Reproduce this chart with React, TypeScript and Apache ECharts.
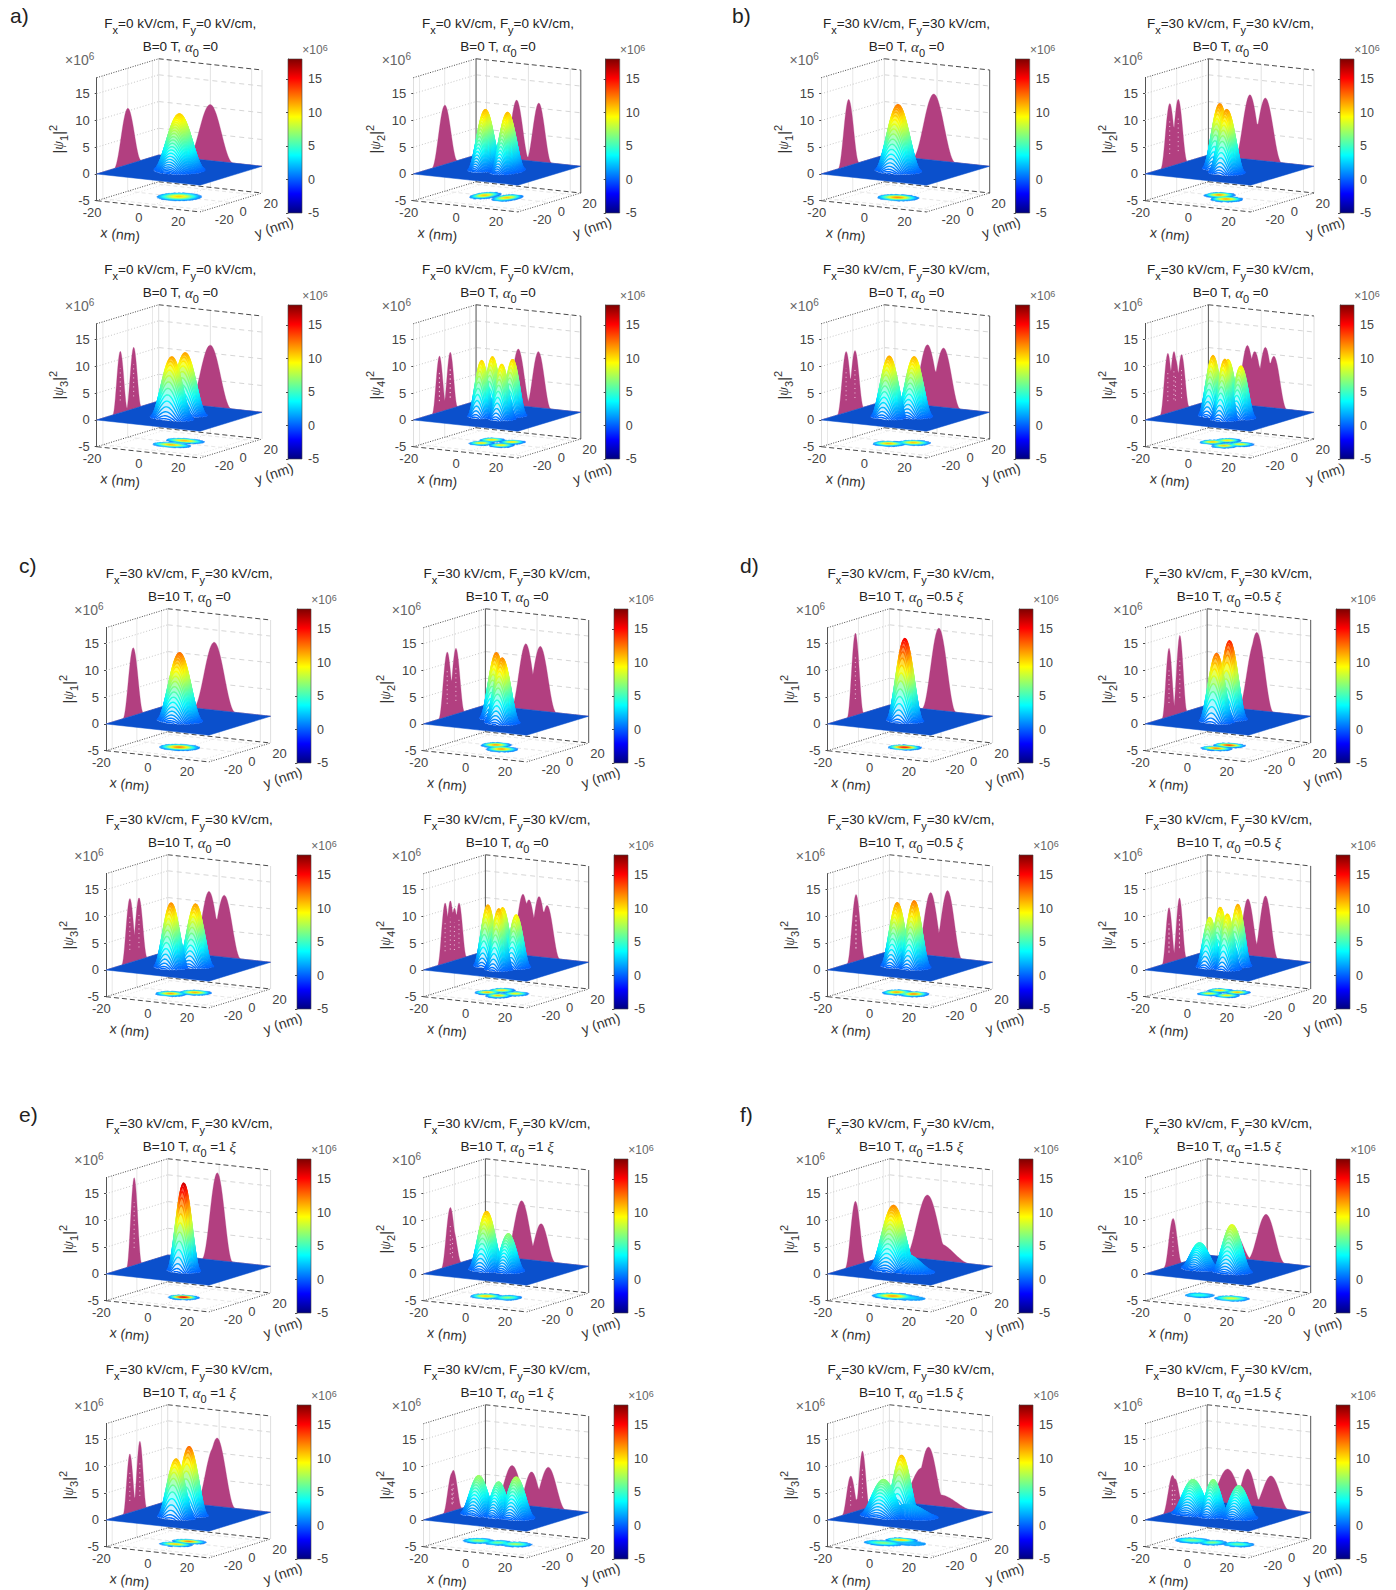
import React, { useEffect, useRef } from "react";
import * as echarts from "echarts";

// ---- values: each peak is [x nm, y nm, height (x10^6), half-height width in x, in y]
const panelsA = [
  [[0, 0, 10.5, 4, 4]],
  [[-5.6, 0, 11.1, 2.2, 3.7], [5, 0, 11, 2.2, 3.7]],
  [[0, -6, 11.5, 3.7, 2.2], [0, 4.8, 11.5, 3.7, 2.2]],
  [[-4.8, -4.2, 10.5, 2.15, 2.1], [-4.8, 4.4, 10.6, 2.15, 2.1], [4.8, -4.2, 10.2, 2.15, 2.1], [4.8, 4.4, 10.5, 2.15, 2.1]],
];
const panelsB = [
  [[-1.5, -3.3, 12.4, 3.7, 3]],
  [[-5.3, 1.2, 12.1, 2.6, 2.6], [2, -5.5, 11.8, 2.8, 2.6]],
  [[-4.5, -5.3, 11.4, 2.9, 2.5], [3.1, 1.7, 11.1, 2.9, 2.5]],
  [[-6.5, -2.2, 11.2, 2.2, 2.2], [2, -7, 11.2, 2.2, 2.2], [-3, 3.8, 10.2, 2.2, 2.2], [6, -1, 9.7, 2.2, 2.2]],
];
const panelsC = [
  [[-2.4, -3, 12.7, 3.7, 3]],
  [[-5.4, 1.2, 12.3, 2.6, 2.5], [1.6, -5.8, 12.1, 2.8, 2.5]],
  [[-4.9, -5.7, 12, 2.8, 2.4], [2.5, 1.7, 11.6, 2.9, 2.4]],
  [[-6.8, -3.3, 11.4, 2.2, 2.2], [1, -7.5, 11.3, 2.2, 2.2], [-3.9, 3.7, 10.5, 2.2, 2.2], [4.9, 0, 9.8, 2.2, 2.2]],
];
const panelsD = [
  [[-1, -2.5, 15.4, 3, 2.4]],
  [[-2, -5.7, 12.8, 2.9, 2], [-1, 3, 14.6, 2.9, 2.1]],
  [[-5, -2, 11.8, 2.5, 2.6], [3.2, -2, 12.5, 2.5, 2.6]],
  [[-5.3, -5.7, 9.3, 2.15, 2], [-5.3, 2.7, 10.6, 2.15, 2], [3.2, -5.7, 10.3, 2.15, 2], [3.2, 2.7, 11.5, 2.15, 2]],
];
const panelsE = [
  [[-0.9, -2.2, 16.4, 2.7, 2.2]],
  [[-7.4, -3.3, 10.9, 2.9, 2.6], [2, -1.5, 7, 2.5, 2.6]],
  [[-2.5, -5.7, 11, 3.2, 2], [-1, 2.4, 12.8, 3.2, 2]],
  [[-12, -2, 7.2, 3, 2.6], [-2.6, -1.7, 6.4, 2.5, 2.6], [5.5, -1, 7.6, 3, 2.6]],
];
const panelsF = [
  [[-6.5, -2.5, 12, 4, 3], [-1, -2.5, 3.2, 5.5, 3]],
  [[-11.8, -3, 4.8, 3.1, 2.6], [3.5, -2.5, 8.8, 3.3, 2.6]],
  [[-9, -6.3, 6.9, 4.1, 2.5], [-6, 3.2, 10.9, 3, 2.1], [0, -1, 2.2, 5.5, 3.4]],
  [[-15, -3, 6.4, 3.6, 2.8], [-5.3, -3, 6.8, 2.5, 2.6], [5.9, -1, 6, 3.1, 2.6]],
];
const fieldLabels = ["0", "30", "30", "30", "30", "30"];
const magneticLabels = ["0", "0", "10", "10", "10", "10"];
const alphaLabels = ["=0", "=0", "=0", "=0.5 {g|ξ}", "=1 {g|ξ}", "=1.5 {g|ξ}"];
const groupLetters = ["a)", "b)", "c)", "d)", "e)", "f)"];
const zTicks = [-5, 0, 5, 10, 15];
const xyTicks = [-20, 0, 20];
const zMin = -5;
const zMax = 18;
const xyLimit = 25;
const jetStops = ["#00007f", "#0000ff", "#00ffff", "#ffff00", "#ff0000", "#7f0000"];
const jetOffsets = [0, 0.125, 0.375, 0.625, 0.875, 1];

// ---- layout: [z-axis x, right corner x, colour bar x] per column, bar top per row
const groupColumns = [
  [[96.7, 262, 288], [413.3, 580.7, 605.7]],
  [[821.2, 989.7, 1015.7], [1145, 1314, 1340]],
  [[106, 270.6, 297], [423.4, 588.7, 614]],
  [[827.5, 992.6, 1019], [1145, 1310.7, 1336]],
  [[106, 270.6, 297], [423.4, 588.7, 614]],
  [[827.5, 992.6, 1019], [1145, 1310.7, 1336]],
];
const groupRows = [[59, 305], [59, 305], [609, 855], [609, 855], [1159, 1405], [1159, 1405]];
const letterPlaces = [[10, 5], [732, 5], [19, 555], [740, 555], [19, 1104], [740, 1104]];
// tone of the [left, back, right] vertical box edges for the four panels of a group
const D = "#555555";
const G = "#8a8a8a";
const W = "#dedede";
const groupEdges = [
  [[D, W, W], [W, G, G], [D, W, W], [W, G, G]],
  [[W, W, D], [D, D, W], [W, W, D], [D, D, W]],
  [[D, W, W], [W, D, D], [D, W, W], [W, D, D]],
  [[D, W, W], [W, D, D], [D, W, W], [W, D, D]],
  [[D, W, W], [W, D, D], [D, W, W], [W, D, D]],
  [[D, W, W], [W, D, D], [D, W, W], [W, D, D]],
];

const FONT = '"Liberation Sans", Arial, sans-serif';
const SERIF = '"Liberation Serif", "DejaVu Serif", serif';
const WALL = "#b23f80";
const PLANE = "#0b50cc";
const DARK = "#4a4a4a";
const PEAK_REACH = 2.75;
const ROW_STEP = 0.4;
const FLOOR_STEP = 1;

function hexToRgb(h: string) {
  return [1, 3, 5].map((i) => parseInt(h.slice(i, i + 2), 16));
}
function jetRgb(v: number) {
  const q = Math.min(1, Math.max(0, (v - zMin) / (zMax - zMin)));
  let i = 0;
  while (i < jetOffsets.length - 2 && q > jetOffsets[i + 1]) i++;
  const f = (q - jetOffsets[i]) / (jetOffsets[i + 1] - jetOffsets[i]);
  const a = hexToRgb(jetStops[i]);
  const b = hexToRgb(jetStops[i + 1]);
  return a.map((c0, k) => c0 + (b[k] - c0) * f);
}
// colour for a height; the gaps of the mesh show a paler tone, palest low down
function meshColor(v: number, pale: boolean) {
  const c = jetRgb(v);
  const tint = pale ? Math.min(0.92, Math.max(0.25, 0.95 - v * 0.09)) : 0;
  const m = c.map((k) => Math.round(k + (255 - k) * tint));
  return `rgb(${m[0]},${m[1]},${m[2]})`;
}

// oblique view of the box: x runs to the front corner, y to the right corner
function project(x: number, y: number, z: number) {
  const s = (x + xyLimit) / (2 * xyLimit);
  const t = (y + xyLimit) / (2 * xyLimit);
  return [s * 0.625 + t * 0.375, z - s * 2.1 + t * 3.54];
}
// bell of one peak, r in units of its width
function bump(r: number) {
  if (r >= PEAK_REACH) return 0;
  const c = Math.cos((Math.PI * r) / (2 * PEAK_REACH));
  return c * c;
}
function surfaceHeight(peaks: number[][], x: number, y: number) {
  let best = 0;
  for (const p of peaks) {
    const v = p[2] * bump(Math.hypot((x - p[0]) / p[3], (y - p[1]) / p[4]));
    if (v > best) best = v;
  }
  return best;
}
function wallOverY(peaks: number[][], y: number) {
  let best = 0;
  for (const p of peaks) best = Math.max(best, p[2] * bump(Math.abs(y - p[1]) / p[4]));
  return best;
}
function wallOverX(peaks: number[][], x: number) {
  let best = 0;
  for (const p of peaks) best = Math.max(best, p[2] * bump(Math.abs(x - p[0]) / p[3]));
  return best;
}
function range(a: number, b: number, step: number) {
  const out: number[] = [];
  for (let v = a; v <= b + 1e-9; v += step) out.push(v);
  return out;
}
// stretches of a row [y, y + step] where the surface rises above a level
function rowSpans(peaks: number[][], y: number, step: number, level: number) {
  const spans: number[][] = [];
  let start: number | null = null;
  const xs = range(-xyLimit, xyLimit, 0.5);
  for (const x of xs) {
    const up = Math.max(surfaceHeight(peaks, x, y), surfaceHeight(peaks, x, y + step)) > level;
    if (up && start === null) start = x;
    if (!up && start !== null) {
      spans.push([y, start - 0.5, x]);
      start = null;
    }
  }
  if (start !== null) spans.push([y, start - 0.5, xyLimit]);
  return spans;
}
// a horizontal gradient in page pixels that follows the height along one edge of a row
function heightGradient(peaks: number[][], y: number, xa: number, xb: number, px0: number, px1: number, pale: boolean) {
  const n = Math.max(2, Math.round(xb - xa));
  const colorStops: any[] = [];
  for (let i = 0; i <= n; i++) {
    const f = i / n;
    colorStops.push({ offset: f, color: meshColor(surfaceHeight(peaks, xa + (xb - xa) * f, y), pale) });
  }
  return { type: "linear", global: true, x: px0, y: 0, x2: Math.max(px1, px0 + 0.01), y2: 0, colorStops };
}

function buildOption() {
  const groups = [panelsA, panelsB, panelsC, panelsD, panelsE, panelsF];
  const grid: any[] = [];
  const xAxis: any[] = [];
  const yAxis: any[] = [];
  const series: any[] = [];
  const title: any[] = [];

  const titleRich = {
    s: { fontSize: 11, fontFamily: FONT, verticalAlign: "bottom", lineHeight: 21, color: "#222" },
    a: { fontSize: 15, fontFamily: SERIF, fontStyle: "italic", color: "#333", lineHeight: 21 },
    g: { fontSize: 15, fontFamily: SERIF, fontStyle: "italic", color: "#333", lineHeight: 21 },
  };

  groupLetters.forEach((letter, g) => {
    title.push({
      text: letter,
      left: letterPlaces[g][0],
      top: letterPlaces[g][1],
      padding: 0,
      textStyle: { fontFamily: FONT, fontSize: 21, fontWeight: "normal", color: "#222" },
    });
  });

  groups.forEach((panels, g) => {
    panels.forEach((peaks, p) => {
      const col = groupColumns[g][p % 2];
      const top = groupRows[g][p < 2 ? 0 : 1];
      const L = col[0];
      const w = col[1] - col[0];
      const cbLeft = col[2];
      const edges = groupEdges[g][p];
      const axisTop = top + 18.7;
      const axisH = 123;
      const gi = grid.length;
      const stateName = p + 1;

      title.push({
        text: `F{s|x}=${fieldLabels[g]} kV/cm, F{s|y}=${fieldLabels[g]} kV/cm,\nB=${magneticLabels[g]} T, {a|α}{s|0} ${alphaLabels[g]}`,
        left: L + w / 2 + 1,
        top: top - 47,
        padding: 0,
        textAlign: "center",
        textStyle: {
          fontFamily: FONT,
          fontSize: 13.5,
          fontWeight: "normal",
          color: "#222",
          lineHeight: 23,
          rich: titleRich,
        },
      });

      grid.push({ left: L, top: axisTop, width: w, height: axisH, containLabel: false, show: false });
      xAxis.push({ gridIndex: gi, type: "value", min: 0, max: 1, show: false });
      yAxis.push({
        gridIndex: gi,
        type: "value",
        min: zMin,
        max: zMax,
        interval: 5,
        position: "left",
        name: `|{i|ψ}{b|${stateName}}|{t|2}`,
        nameLocation: "middle",
        nameRotate: 90,
        nameGap: 27,
        nameTextStyle: {
          fontFamily: FONT,
          fontSize: 15,
          color: "#333",
          lineHeight: 22,
          rich: {
            i: { fontFamily: SERIF, fontStyle: "italic", fontSize: 14, color: "#333", lineHeight: 22 },
            b: { fontSize: 11, color: "#333", verticalAlign: "bottom", lineHeight: 22 },
            t: { fontSize: 11, color: "#333", verticalAlign: "top", lineHeight: 22 },
          },
        },
        axisLine: { show: true, lineStyle: { color: edges[0], width: 1 } },
        axisTick: { show: true, length: 2, customValues: zTicks, lineStyle: { color: DARK } },
        axisLabel: { customValues: zTicks, margin: 7, fontFamily: FONT, fontSize: 13, color: "#444" },
        splitLine: { show: false },
      });

      // frame: grid lines, side-wall silhouettes, box, tick labels
      const frame: any[] = [];
      const line = (a: number[], b: number[], color: string, dash: number[] | null, width = 1) =>
        frame.push({ kind: "line", a, b, color, dash, width });
      const L_ = -xyLimit;
      const H_ = xyLimit;
      for (const v of xyTicks) {
        line([L_, v, zMin], [L_, v, zMax], "#e8e8e8", null);
        line([v, H_, zMin], [v, H_, zMax], "#e2e2e2", null);
        line([v, L_, zMin], [v, H_, zMin], "#e6e6e6", [1, 2]);
        line([L_, v, zMin], [H_, v, zMin], "#e6e6e6", [4, 3]);
      }
      for (const v of [0, 5, 10, 15]) {
        line([L_, L_, v], [L_, H_, v], "#c8c8c8", [1, 2]);
        line([L_, H_, v], [H_, H_, v], "#d6d6d6", [5, 4]);
      }
      line([L_, H_, zMin], [L_, H_, zMax], edges[1], null, edges[1] === G ? 1.5 : 1);
      line([H_, H_, zMin], [H_, H_, zMax], edges[2], null, edges[2] === G ? 1.5 : 1);
      line([L_, L_, zMin], [H_, L_, zMin], DARK, [5, 3]);
      line([L_, H_, zMin], [H_, H_, zMin], DARK, [5, 3]);
      line([L_, L_, zMin], [L_, H_, zMin], DARK, [1, 1.5]);
      line([H_, L_, zMin], [H_, H_, zMin], DARK, [1, 1.5]);
      line([L_, H_, zMax], [H_, H_, zMax], DARK, [5, 3]);
      line([L_, L_, zMax], [L_, H_, zMax], DARK, [1, 1.5]);

      const ys = range(-xyLimit, xyLimit, 0.5);
      frame.push({
        kind: "poly",
        fill: WALL,
        pts: [[L_, L_, 0], ...ys.map((y) => [L_, y, wallOverY(peaks, y)]), [L_, H_, 0]],
      });
      frame.push({
        kind: "poly",
        fill: WALL,
        pts: [[L_, H_, 0], ...ys.map((x) => [x, H_, wallOverX(peaks, x)]), [H_, H_, 0]],
      });
      // the sparse mesh leaves a column of pale specks inside the narrow wall peaks
      for (const q of peaks) {
        if (q[2] > 5 && q[4] < 3) {
          line([L_, q[1], q[2] * 0.2], [L_, q[1], q[2] * 0.72], "#eec7dc", [1, 3.5], 1);
        }
      }

      const xOff = [[-15, 11], [-9.5, 11], [-11.5, 10.5]];
      const yOff = [[18, 9], [12, 9.5], [15, 9]];
      xyTicks.forEach((v, i) => {
        frame.push({ kind: "text", at: [v, L_, zMin], off: xOff[i], text: String(v), size: 13, color: "#444" });
        frame.push({ kind: "text", at: [H_, v, zMin], off: yOff[i], text: String(v), size: 13, color: "#444" });
      });
      frame.push({ kind: "text", at: [0, L_, zMin], off: [-28, 28], text: "x (nm)", size: 14, color: "#333", rot: -0.12 });
      frame.push({ kind: "text", at: [H_, 0, zMin], off: [43, 25], text: "y (nm)", size: 14, color: "#333", rot: 0.32 });
      frame.push({
        kind: "text",
        at: [L_, L_, zMax],
        off: [-17, -18],
        text: "×10{t|6}",
        size: 14,
        color: "#666",
        rich: { t: { fontSize: 10, verticalAlign: "top", lineHeight: 16, fill: "#666", color: "#666" } },
      });

      series.push({
        type: "custom",
        name: `frame ${g}-${p}`,
        xAxisIndex: gi,
        yAxisIndex: gi,
        coordinateSystem: "cartesian2d",
        silent: true,
        clip: false,
        progressive: 0,
        z: 2,
        data: frame.map((_, i) => [i]),
        encode: { x: 0 },
        renderItem: (params: any, api: any) => {
          const it = frame[params.dataIndex];
          const c = (q: number[]) => api.coord(project(q[0], q[1], q[2]));
          if (it.kind === "line") {
            const a = c(it.a);
            const b = c(it.b);
            return {
              type: "line",
              silent: true,
              shape: { x1: a[0], y1: a[1], x2: b[0], y2: b[1] },
              style: { stroke: it.color, lineWidth: it.width, lineDash: it.dash || undefined, fill: null },
            };
          }
          if (it.kind === "poly") {
            return {
              type: "polygon",
              silent: true,
              shape: { points: it.pts.map(c) },
              style: { fill: it.fill, stroke: it.fill, lineWidth: 0.3 },
            };
          }
          const at = c(it.at);
          return {
            type: "text",
            silent: true,
            x: at[0] + it.off[0],
            y: at[1] + it.off[1],
            rotation: it.rot || 0,
            style: {
              text: it.text,
              fontFamily: FONT,
              fontSize: it.size,
              fill: it.color,
              align: "center",
              verticalAlign: "middle",
              rich: it.rich,
            },
          };
        },
      });

      // contour shadow on the floor, one flat strip per row
      const floorRows: number[][] = [];
      for (let y = xyLimit - FLOOR_STEP; y >= -xyLimit; y -= FLOOR_STEP) {
        floorRows.push(...rowSpans(peaks, y, FLOOR_STEP, 1.2));
      }
      series.push({
        type: "custom",
        name: `floor ${g}-${p}`,
        xAxisIndex: gi,
        yAxisIndex: gi,
        coordinateSystem: "cartesian2d",
        silent: true,
        clip: false,
        progressive: 0,
        z: 2,
        data: floorRows,
        encode: { x: 1 },
        renderItem: (_: any, api: any) => {
          const y = api.value(0);
          const xa = api.value(1);
          const xb = api.value(2);
          const c = (a: number, b: number) => api.coord(project(a, b, zMin));
          const a0 = c(xa, y);
          const b0 = c(xb, y);
          const grad = heightGradient(peaks, y + FLOOR_STEP / 2, xa, xb, a0[0], b0[0], false);
          return {
            type: "polygon",
            silent: true,
            shape: { points: [a0, b0, c(xb, y + FLOOR_STEP), c(xa, y + FLOOR_STEP)] },
            style: { fill: grad, stroke: grad, lineWidth: 0.3 },
          };
        },
      });

      // base plane
      series.push({
        type: "custom",
        name: `plane ${g}-${p}`,
        xAxisIndex: gi,
        yAxisIndex: gi,
        coordinateSystem: "cartesian2d",
        silent: true,
        clip: false,
        z: 3,
        data: [[0, 0]],
        encode: { x: 0, y: 1 },
        renderItem: (_: any, api: any) => {
          const c = (a: number, b: number) => api.coord(project(a, b, 0));
          return {
            type: "polygon",
            silent: true,
            shape: { points: [c(L_, L_), c(H_, L_), c(H_, H_), c(L_, H_)] },
            style: { fill: PLANE, stroke: PLANE, lineWidth: 0.5 },
          };
        },
      });

      // mesh rows, far rows first so that near rows hide them
      const rows: number[][] = [];
      for (let y = xyLimit - ROW_STEP; y >= -xyLimit; y -= ROW_STEP) {
        rows.push(...rowSpans(peaks, y, ROW_STEP, 0.12));
      }
      series.push({
        type: "custom",
        name: `surface ${g}-${p}`,
        xAxisIndex: gi,
        yAxisIndex: gi,
        coordinateSystem: "cartesian2d",
        silent: true,
        clip: false,
        progressive: 0,
        z: 4,
        data: rows,
        encode: { x: 1 },
        renderItem: (_: any, api: any) => {
          const y = api.value(0);
          const xa = api.value(1);
          const xb = api.value(2);
          const back: number[][] = [];
          const front: number[][] = [];
          for (let x = xa; x <= xb + 1e-9; x += 0.5) {
            back.push(api.coord(project(x, y + ROW_STEP, surfaceHeight(peaks, x, y + ROW_STEP))));
            front.push(api.coord(project(x, y, surfaceHeight(peaks, x, y))));
          }
          const px0 = back[0][0];
          const px1 = back[back.length - 1][0];
          return {
            type: "group",
            silent: true,
            children: [
              {
                type: "polygon",
                silent: true,
                shape: { points: back.concat(front.slice().reverse()) },
                style: { fill: heightGradient(peaks, y, xa, xb, px0, px1, true), stroke: null },
              },
              {
                type: "polyline",
                silent: true,
                shape: { points: back },
                style: {
                  fill: null,
                  stroke: heightGradient(peaks, y + ROW_STEP, xa, xb, px0, px1, false),
                  lineWidth: 1.4,
                  lineJoin: "round",
                },
              },
            ],
          };
        },
      });

      // colour bar with a real axis
      const ci = grid.length;
      grid.push({ left: cbLeft, top, width: 14, height: 154, containLabel: false, show: false });
      xAxis.push({ gridIndex: ci, type: "value", min: 0, max: 1, show: false });
      yAxis.push({
        gridIndex: ci,
        type: "value",
        min: zMin,
        max: zMax,
        interval: 5,
        position: "right",
        axisLine: { show: true, lineStyle: { color: "#333", width: 0.8 } },
        axisTick: { show: true, inside: true, length: 2, customValues: zTicks, lineStyle: { color: "#222", width: 0.8 } },
        axisLabel: { customValues: zTicks, margin: 6, fontFamily: FONT, fontSize: 12.5, color: "#444" },
        splitLine: { show: false },
      });
      series.push({
        type: "custom",
        name: `colour bar ${g}-${p}`,
        xAxisIndex: ci,
        yAxisIndex: ci,
        coordinateSystem: "cartesian2d",
        silent: true,
        z: 1,
        data: [[0, zMin, 1, zMax]],
        encode: { x: 0, y: 1 },
        renderItem: (_: any, api: any) => {
          const a = api.coord([api.value(0), api.value(3)]);
          const b = api.coord([api.value(2), api.value(1)]);
          return {
            type: "group",
            silent: true,
            children: [
              {
                type: "rect",
                silent: true,
                shape: { x: a[0], y: a[1], width: b[0] - a[0], height: b[1] - a[1] },
                style: {
                  stroke: "#444",
                  lineWidth: 0.6,
                  fill: {
                    type: "linear",
                    x: 0,
                    y: 1,
                    x2: 0,
                    y2: 0,
                    colorStops: jetStops.map((color, i) => ({ offset: jetOffsets[i], color })),
                  },
                },
              },
              {
                type: "text",
                silent: true,
                x: b[0] + 13,
                y: a[1] - 9,
                style: {
                  text: "×10{t|6}",
                  fontFamily: FONT,
                  fontSize: 12,
                  fill: "#666",
                  align: "center",
                  verticalAlign: "middle",
                  rich: { t: { fontSize: 9, fill: "#666", color: "#666", verticalAlign: "top", lineHeight: 14 } },
                },
              },
            ],
          };
        },
      });
    });
  });

  return { animation: false, backgroundColor: "#ffffff", tooltip: { show: false }, title, grid, xAxis, yAxis, series };
}

export default function App() {
  const ref = useRef<HTMLDivElement>(null);
  useEffect(() => {
    document.body.style.margin = "0";
    const chart = echarts.init(ref.current as HTMLDivElement, null, { renderer: "svg" });
    chart.setOption(buildOption() as any);
    return () => chart.dispose();
  }, []);
  return <div ref={ref} style={{ width: 1396, height: 1590 }} />;
}
